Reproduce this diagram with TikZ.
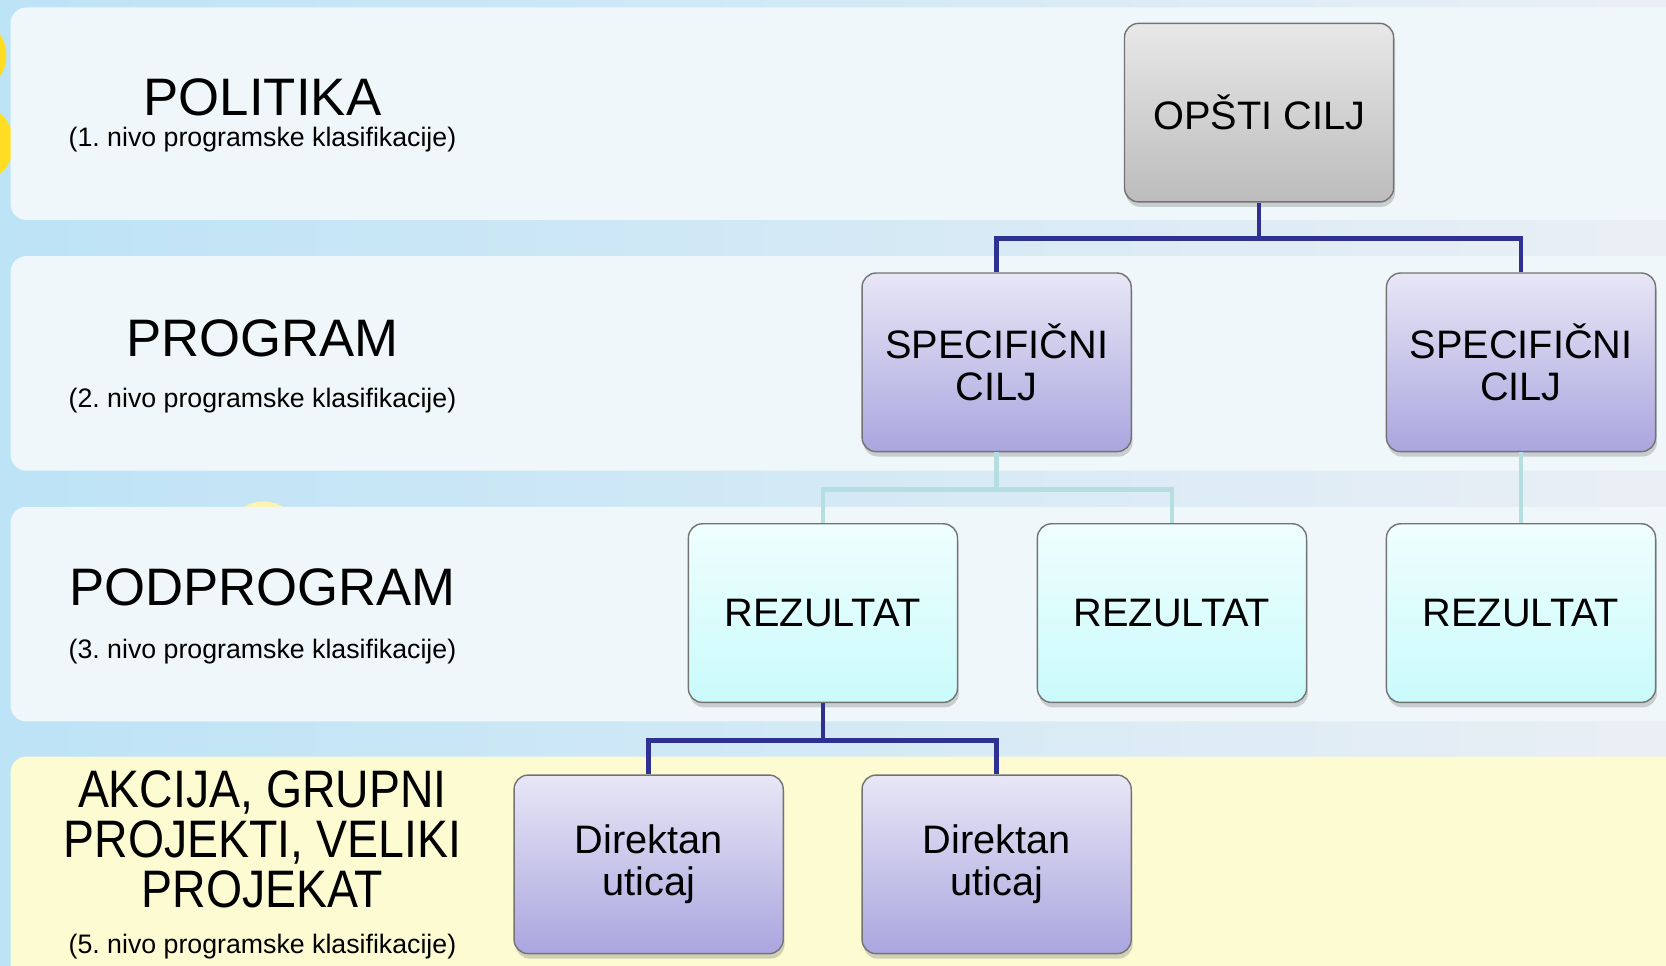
\documentclass[tikz,border=0pt]{standalone}
\usepackage{fontspec}
\setmainfont{Liberation Sans}
\newfontfamily\narrowfont[FakeStretch=0.88]{Liberation Sans}
\usetikzlibrary{shadows}
\frenchspacing

\definecolor{skyblue}{HTML}{BDE3F6}
\definecolor{skypale}{HTML}{EAEFF5}
\definecolor{bandcol}{HTML}{EFF7FA}
\definecolor{bandyel}{HTML}{FDFBD2}
\definecolor{navy}{HTML}{2E3192}
\definecolor{linkcyan}{HTML}{B5DEE0}
\definecolor{sungold}{HTML}{FFDD22}
\definecolor{greytop}{HTML}{E8E8E8}
\definecolor{greybot}{HTML}{BCBCBC}
\definecolor{lilactop}{HTML}{E8E6F6}
\definecolor{lilacbot}{HTML}{AAA6DF}
\definecolor{aquatop}{HTML}{EFFEFE}
\definecolor{aquabot}{HTML}{CAFBFC}

\begin{document}
\begin{tikzpicture}[x=0.010625cm,y=-0.010625cm,
		band/.style={fill=bandcol,rounded corners=4.5pt},
		box/.style={draw=black!55,thin,rounded corners=4pt,minimum width=2.69cm,minimum height=1.785cm,
			align=center,font=\fontsize{11.3}{11.8}\selectfont,
			drop shadow={shadow xshift=0.4pt,shadow yshift=-1.4pt,opacity=0.35}},
		grey/.style={box,top color=greytop,bottom color=greybot},
		lilac/.style={box,top color=lilactop,bottom color=lilacbot},
		aqua/.style={box,top color=aquatop,bottom color=aquabot},
		level/.style={align=center,font=\fontsize{15}{14.2}\selectfont},
		sub/.style={font=\fontsize{7.6}{9}\selectfont},
		tree/.style={navy,line width=1.35pt},
		tie/.style={linkcyan,line width=1.35pt}]
		
		\useasboundingbox (0,0) rectangle (1568,909);
		\clip (0,0) rectangle (1568,909);
		\shade[left color=skyblue,right color=skypale] (0,0) rectangle (1568,909);
		\fill[sungold] (-30,52) circle (36);
		\fill[sungold] (-25,135) circle (38);
		\fill[sungold!35] (248,508) circle (36);
		
		\fill[band] (10,7) rectangle (1620,207);
		\fill[band] (10,241) rectangle (1620,443);
		\fill[band] (10,477) rectangle (1620,679);
		\fill[band,fill=bandyel] (10,712) rectangle (1620,960);
		
		\node[level] (pol) at (247,92) {POLITIKA};
		\node[sub] (polsub) at (247,131) {(1. nivo programske klasifikacije)};
		\node[level] (prog) at (247,318) {PROGRAM};
		\node[sub] (progsub) at (247,377) {(2. nivo programske klasifikacije)};
		\node[level] (podp) at (247,553) {PODPROGRAM};
		\node[sub] (podpsub) at (247,613) {(3. nivo programske klasifikacije)};
		\node[level,font=\narrowfont\fontsize{15}{14.2}\selectfont] (akc) at (247,790) {AKCIJA, GRUPNI\\PROJEKTI, VELIKI\\PROJEKAT};
		\node[sub] (akcsub) at (247,891) {(5. nivo programske klasifikacije)};
		
		\node[grey] (opsti) at (1185,106) {OPŠTI CILJ};
		
		\node[lilac] (spec1) at (938,341) {SPECIFIČNI\\CILJ};
		\node[lilac] (spec2) at (1431.5,341) {SPECIFIČNI\\CILJ};
		
		\node[aqua] (rez1) at (774.5,577) {REZULTAT};
		\node[aqua] (rez2) at (1103,577) {REZULTAT};
		\node[aqua] (rez3) at (1431.5,577) {REZULTAT};
		
		\node[lilac] (dir1) at (610.5,813.5) {Direktan\\uticaj};
		\node[lilac] (dir2) at (938,813.5) {Direktan\\uticaj};
		
		\draw[tree] (opsti.south) -- ++(0,34) -| (spec1.north);
		\draw[tree] (opsti.south) -- ++(0,34) -| (spec2.north);
		
		\draw[tie] (spec1.south) -- ++(0,35) -| (rez1.north);
		\draw[tie] (spec1.south) -- ++(0,35) -| (rez2.north);
		\draw[tie] (spec2.south) -- (rez3.north);
		
		\draw[tree] (rez1.south) -- ++(0,35) -| (dir1.north);
		\draw[tree] (rez1.south) -- ++(0,35) -| (dir2.north);
	\end{tikzpicture}
\end{document}
